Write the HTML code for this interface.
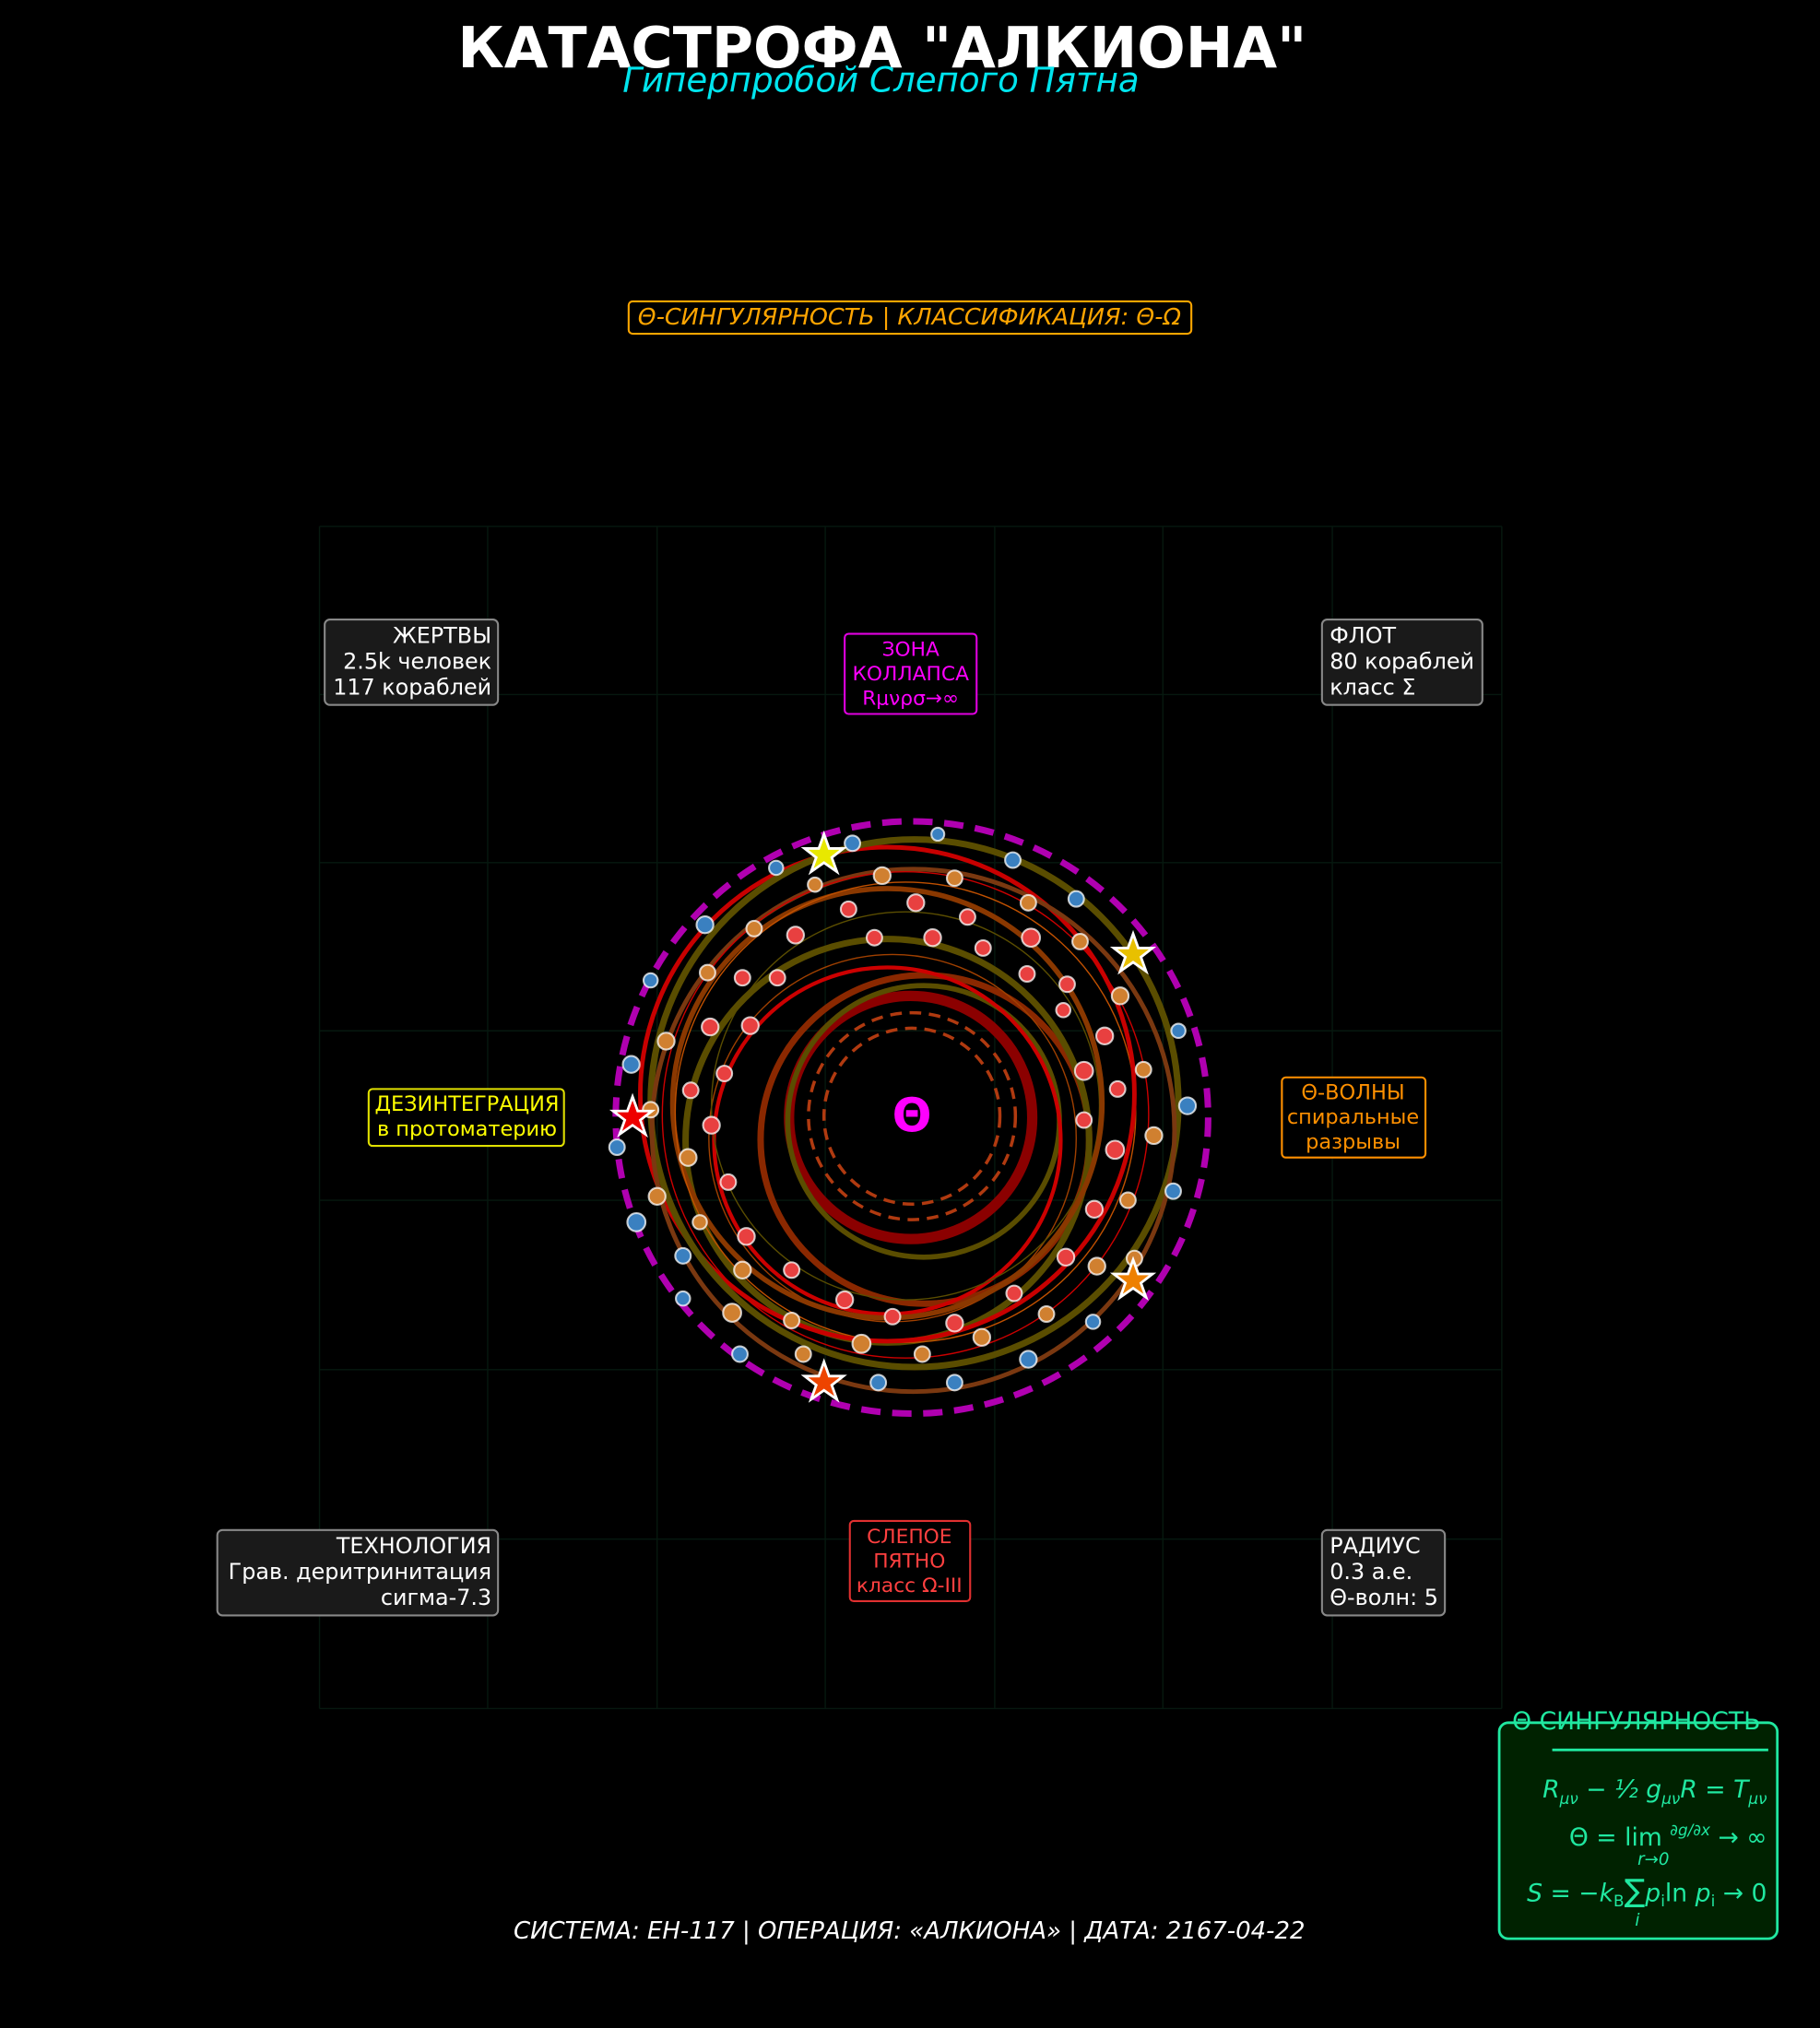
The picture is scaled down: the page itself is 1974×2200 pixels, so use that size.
<!DOCTYPE html>
<html><head><meta charset="utf-8"><style>
html,body{margin:0;padding:0;background:#000;}
svg{display:block;font-family:"DejaVu Sans","Liberation Sans",sans-serif;}
</style></head><body>
<svg width="1974" height="2200" viewBox="0 0 1407 1568" xmlns="http://www.w3.org/2000/svg">
<rect width="1407" height="1568" fill="#000"/>
<g stroke="#06180f" stroke-width="1">
<line x1="247" y1="407" x2="247" y2="1321"/><line x1="377" y1="407" x2="377" y2="1321"/>
<line x1="508" y1="407" x2="508" y2="1321"/><line x1="638" y1="407" x2="638" y2="1321"/>
<line x1="769" y1="407" x2="769" y2="1321"/><line x1="899" y1="407" x2="899" y2="1321"/>
<line x1="1030" y1="407" x2="1030" y2="1321"/><line x1="1161" y1="407" x2="1161" y2="1321"/>
<line x1="247" y1="407" x2="1161" y2="407"/><line x1="247" y1="537" x2="1161" y2="537"/>
<line x1="247" y1="667" x2="1161" y2="667"/><line x1="247" y1="797" x2="1161" y2="797"/>
<line x1="247" y1="928" x2="1161" y2="928"/><line x1="247" y1="1059" x2="1161" y2="1059"/>
<line x1="247" y1="1190" x2="1161" y2="1190"/><line x1="247" y1="1321" x2="1161" y2="1321"/>
</g>
<text x="682" y="52" text-anchor="middle" fill="#fff" font-weight="bold" font-size="44">КАТАСТРОФА "АЛКИОНА"</text>
<text x="681" y="71" text-anchor="middle" fill="#00e5ee" font-style="italic" font-size="26.5">Гиперпробой Слепого Пятна</text>
<rect x="486" y="233" width="435" height="25" rx="3" fill="#000" stroke="#ffa500" stroke-width="1.5"/>
<text x="703" y="251" text-anchor="middle" fill="#ffa500" font-style="italic" font-size="18" textLength="420" lengthAdjust="spacingAndGlyphs">Θ-СИНГУЛЯРНОСТЬ | КЛАССИФИКАЦИЯ: Θ-Ω</text>
<g fill="none">
<circle cx="705" cy="863" r="68" stroke="#b03a10" stroke-width="2.5" stroke-dasharray="9,6"/>
<circle cx="705" cy="863" r="80" stroke="#b03a10" stroke-width="2.5" stroke-dasharray="9,6"/>
<circle cx="704" cy="864" r="94" stroke="#8b0000" stroke-width="8"/>
<circle cx="714" cy="867" r="105" stroke="#5a4d00" stroke-width="4"/>
<circle cx="715" cy="881" r="127" stroke="#8a2800" stroke-width="5"/>
<circle cx="686" cy="882" r="134" stroke="#cc0000" stroke-width="3"/>
<circle cx="690" cy="880" r="142" stroke="#a04000" stroke-width="1"/>
<circle cx="686" cy="882" r="156" stroke="#5a4d00" stroke-width="5"/>
<circle cx="700" cy="855" r="150" stroke="#5a4d00" stroke-width="1"/>
<circle cx="686" cy="853" r="166" stroke="#8a3800" stroke-width="4"/>
<circle cx="700" cy="860" r="178" stroke="#c05000" stroke-width="1"/>
<circle cx="686" cy="846" r="191" stroke="#c80000" stroke-width="3.5"/>
<circle cx="707" cy="853" r="204" stroke="#5a4d00" stroke-width="5"/>
<circle cx="706" cy="874" r="202" stroke="#7a3810" stroke-width="3.5"/>
<circle cx="700" cy="862" r="188" stroke="#cc0000" stroke-width="1"/>
<circle cx="705" cy="864" r="229" stroke="#b000b0" stroke-width="5" stroke-dasharray="15,9"/>
</g>
<text x="705" y="875" text-anchor="middle" fill="#ff00ff" font-weight="bold" font-size="36">Θ</text>
<g stroke="#fff" stroke-opacity="0.75" stroke-width="1.5">
<g fill="#3a80c0">
<circle cx="725" cy="645" r="5"/><circle cx="659" cy="652" r="6"/><circle cx="783" cy="665" r="6"/><circle cx="600" cy="671" r="5.5"/><circle cx="832" cy="695" r="6"/><circle cx="545" cy="715" r="6.5"/><circle cx="503" cy="758" r="5.5"/><circle cx="911" cy="797" r="5.5"/><circle cx="488" cy="823" r="6.5"/><circle cx="918" cy="855" r="6.5"/><circle cx="477" cy="887" r="6"/><circle cx="907" cy="921" r="6"/><circle cx="492" cy="945" r="7"/><circle cx="528" cy="971" r="6"/><circle cx="845" cy="1022" r="5.5"/><circle cx="528" cy="1004" r="5.5"/><circle cx="572" cy="1047" r="6"/><circle cx="795" cy="1051" r="6.5"/><circle cx="679" cy="1069" r="6"/><circle cx="738" cy="1069" r="6"/>
</g>
<g fill="#d08030">
<circle cx="630" cy="684" r="5.5"/><circle cx="682" cy="677" r="6.5"/><circle cx="738" cy="679" r="6"/><circle cx="795" cy="698" r="6"/><circle cx="583" cy="718" r="6"/><circle cx="835" cy="728" r="6"/><circle cx="547" cy="752" r="6"/><circle cx="866" cy="770" r="6.5"/><circle cx="515" cy="805" r="6.5"/><circle cx="884" cy="827" r="6"/><circle cx="503" cy="858" r="6"/><circle cx="892" cy="878" r="6.5"/><circle cx="532" cy="895" r="6.5"/><circle cx="872" cy="928" r="6"/><circle cx="508" cy="925" r="6.5"/><circle cx="541" cy="945" r="5.5"/><circle cx="848" cy="979" r="6.5"/><circle cx="877" cy="973" r="6"/><circle cx="574" cy="982" r="6.5"/><circle cx="809" cy="1016" r="6"/><circle cx="566" cy="1015" r="7"/><circle cx="612" cy="1021" r="6"/><circle cx="759" cy="1034" r="6.5"/><circle cx="666" cy="1039" r="7"/><circle cx="713" cy="1047" r="6"/><circle cx="621" cy="1047" r="6"/>
</g>
<g fill="#e84040">
<circle cx="708" cy="698" r="6.5"/><circle cx="656" cy="703" r="6"/><circle cx="748" cy="709" r="6"/><circle cx="615" cy="723" r="6.5"/><circle cx="676" cy="725" r="6"/><circle cx="721" cy="725" r="6.5"/><circle cx="797" cy="725" r="7"/><circle cx="574" cy="756" r="6"/><circle cx="601" cy="756" r="6"/><circle cx="760" cy="733" r="6"/><circle cx="794" cy="753" r="6"/><circle cx="825" cy="761" r="6"/><circle cx="580" cy="793" r="6.5"/><circle cx="822" cy="781" r="5.5"/><circle cx="549" cy="794" r="6.5"/><circle cx="854" cy="801" r="6.5"/><circle cx="560" cy="830" r="6"/><circle cx="838" cy="828" r="7"/><circle cx="534" cy="843" r="6"/><circle cx="864" cy="842" r="6"/><circle cx="550" cy="870" r="6.5"/><circle cx="838" cy="866" r="6"/><circle cx="862" cy="889" r="7"/><circle cx="563" cy="914" r="6"/><circle cx="846" cy="935" r="6.5"/><circle cx="577" cy="956" r="6.5"/><circle cx="824" cy="972" r="6.5"/><circle cx="612" cy="982" r="6"/><circle cx="784" cy="1000" r="6"/><circle cx="653" cy="1005" r="6.5"/><circle cx="690" cy="1018" r="6"/><circle cx="738" cy="1023" r="6.5"/>
</g>
</g>
<g stroke="#fff" stroke-width="2">
<polygon points="637,645 641,656 652,656 643,663 647,674 637,667 627,674 631,663 622,656 633,656" fill="#e8e800"/>
<polygon points="876,722 880,733 891,733 882,740 886,751 876,744 866,751 870,740 861,733 872,733" fill="#e8c000"/>
<polygon points="489,848 493,859 504,859 495,866 499,877 489,870 479,877 483,866 474,859 485,859" fill="#ee0000"/>
<polygon points="876,974 880,985 891,985 882,992 886,1003 876,996 866,1003 870,992 861,985 872,985" fill="#ee8000"/>
<polygon points="637,1053 641,1064 652,1064 643,1071 647,1082 637,1075 627,1082 631,1071 622,1064 633,1064" fill="#ee4400"/>
</g>
<g font-size="17">
<rect x="251" y="479" width="134" height="66" rx="4" fill="#1a1a1a" stroke="#888" stroke-width="1.5"/>
<text x="380" y="497" text-anchor="end" fill="#fff">ЖЕРТВЫ</text>
<text x="380" y="517" text-anchor="end" fill="#fff">2.5k человек</text>
<text x="380" y="537" text-anchor="end" fill="#fff">117 кораблей</text>
<rect x="1022" y="479" width="124" height="66" rx="4" fill="#1a1a1a" stroke="#888" stroke-width="1.5"/>
<text x="1028" y="497" fill="#fff">ФЛОТ</text>
<text x="1028" y="517" fill="#fff">80 кораблей</text>
<text x="1028" y="537" fill="#fff">класс Σ</text>
<rect x="653" y="490" width="102" height="62" rx="3" fill="#000" stroke="#e000e0" stroke-width="1.5"/>
<text x="704" y="507" text-anchor="middle" fill="#ff00ff" font-size="15.5">ЗОНА</text>
<text x="704" y="526" text-anchor="middle" fill="#ff00ff" font-size="15.5">КОЛЛАПСА</text>
<text x="704" y="545" text-anchor="middle" fill="#ff00ff" font-size="15.5">Rμνρσ→∞</text>
<rect x="285" y="842" width="151" height="44" rx="3" fill="#000" stroke="#e0e000" stroke-width="1.5"/>
<text x="361" y="859" text-anchor="middle" fill="#ffff00" font-size="16">ДЕЗИНТЕГРАЦИЯ</text>
<text x="361" y="878" text-anchor="middle" fill="#ffff00" font-size="16">в протоматерию</text>
<rect x="991" y="833" width="111" height="62" rx="3" fill="#000" stroke="#ff9000" stroke-width="1.5"/>
<text x="1046" y="850" text-anchor="middle" fill="#ff9000" font-size="16">Θ-ВОЛНЫ</text>
<text x="1046" y="869" text-anchor="middle" fill="#ff9000" font-size="16">спиральные</text>
<text x="1046" y="888" text-anchor="middle" fill="#ff9000" font-size="16">разрывы</text>
<rect x="168" y="1183" width="217" height="66" rx="4" fill="#1a1a1a" stroke="#888" stroke-width="1.5"/>
<text x="380" y="1201" text-anchor="end" fill="#fff">ТЕХНОЛОГИЯ</text>
<text x="380" y="1221" text-anchor="end" fill="#fff">Грав. деритринитация</text>
<text x="380" y="1241" text-anchor="end" fill="#fff">сигма-7.3</text>
<rect x="1022" y="1183" width="95" height="66" rx="4" fill="#1a1a1a" stroke="#888" stroke-width="1.5"/>
<text x="1028" y="1201" fill="#fff">РАДИУС</text>
<text x="1028" y="1221" fill="#fff">0.3 а.е.</text>
<text x="1028" y="1241" fill="#fff">Θ-волн: 5</text>
<rect x="657" y="1176" width="93" height="62" rx="3" fill="#000" stroke="#e03030" stroke-width="1.5"/>
<text x="703" y="1193" text-anchor="middle" fill="#ff4040" font-size="15.5">СЛЕПОЕ</text>
<text x="703" y="1212" text-anchor="middle" fill="#ff4040" font-size="15.5">ПЯТНО</text>
<text x="703" y="1231" text-anchor="middle" fill="#ff4040" font-size="15.5">класс Ω-III</text>
</g>
<rect x="1159" y="1332" width="215" height="167" rx="7" fill="#002200" stroke="#20e8a0" stroke-width="2"/>
<g fill="#20e8a0" font-size="19">
<text x="1265" y="1337" text-anchor="middle">Θ СИНГУЛЯРНОСТЬ</text>
<line x1="1200" y1="1353" x2="1367" y2="1353" stroke="#20e8a0" stroke-width="2"/>
<text x="1366" y="1390" text-anchor="end" font-style="italic">R<tspan font-size="12" dy="5">μν</tspan><tspan dy="-5"> − ½ g</tspan><tspan font-size="12" dy="5">μν</tspan><tspan dy="-5">R = T</tspan><tspan font-size="12" dy="5">μν</tspan></text>
<text x="1366" y="1427" text-anchor="end">Θ = lim <tspan font-size="12" dy="-8" font-style="italic">∂g/∂x</tspan><tspan dy="8"> → ∞</tspan></text>
<text x="1266" y="1442" font-size="13" font-style="italic">r→0</text>
<text x="1366" y="1470" text-anchor="end"><tspan font-style="italic">S</tspan> = −<tspan font-style="italic">k</tspan><tspan font-size="12" dy="4">B</tspan><tspan dy="-4" font-size="24">∑</tspan><tspan font-style="italic">p</tspan><tspan font-size="12" dy="4">i</tspan><tspan dy="-4">ln </tspan><tspan font-style="italic">p</tspan><tspan font-size="12" dy="4">i</tspan><tspan dy="-4"> → 0</tspan></text>
<text x="1264" y="1489" font-size="13" font-style="italic">i</text>
</g>
<text x="703" y="1499" text-anchor="middle" fill="#fff" font-style="italic" font-size="18.5">СИСТЕМА: ЕН-117 | ОПЕРАЦИЯ: «АЛКИОНА» | ДАТА: 2167-04-22</text>
</svg>
</body></html>
